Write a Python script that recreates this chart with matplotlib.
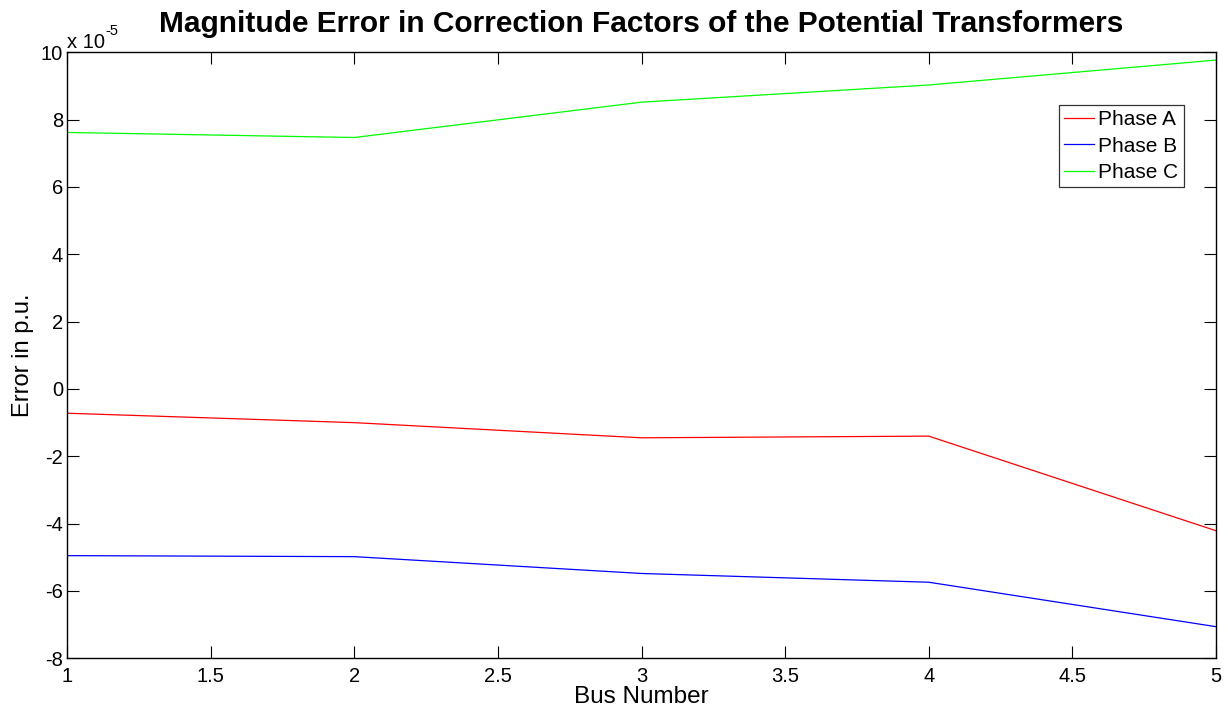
import matplotlib
matplotlib.use("Agg")
import matplotlib.pyplot as plt
from matplotlib.ticker import FuncFormatter, MultipleLocator
import numpy as np

plt.rcParams['font.family'] = ['Liberation Sans', 'DejaVu Sans']

bus = [1, 2, 3, 4, 5]
scale = 1e-5
phase_a = np.array([-0.72, -1.00, -1.45, -1.40, -4.21]) * scale
phase_b = np.array([-4.95, -4.98, -5.48, -5.74, -7.06]) * scale
phase_c = np.array([7.62, 7.47, 8.52, 9.03, 9.77]) * scale
labels = ['Phase A', 'Phase B', 'Phase C']
colors = ['#ff0000', '#0000ff', '#00ff00']

fig = plt.figure(figsize=(12.28, 7.13), dpi=100)
ax = fig.add_axes([0.0546, 0.0767, 0.9356, 0.8499])

for y, lab, c in zip([phase_a, phase_b, phase_c], labels, colors):
    ax.plot(bus, y, color=c, lw=0.9, label=lab)

ax.set_xlim(1, 5)
ax.set_ylim(-8e-5, 10e-5)
ax.xaxis.set_major_locator(MultipleLocator(0.5))
ax.yaxis.set_major_locator(MultipleLocator(2e-5))
ax.xaxis.set_major_formatter(FuncFormatter(lambda v, p: f"{v:g}"))
ax.yaxis.set_major_formatter(FuncFormatter(lambda v, p: f"{round(v/scale):d}"))
ax.tick_params(direction='in', length=8.5, width=0.8, labelsize=14.5,
               top=True, right=True)
ax.tick_params(axis='x', pad=6)
ax.tick_params(axis='y', pad=3)
for s in ax.spines.values():
    s.set_linewidth(1.0)

# exponent label, MATLAB style
t1 = ax.annotate("x 10", xy=(0, 1), xycoords='axes fraction', xytext=(0, 3),
                 textcoords='offset points', fontsize=14.5, ha='left', va='baseline')
fig.canvas.draw()
bb = t1.get_window_extent()
fig.text(bb.x1 / fig.bbox.width, (bb.y0 + 4 + 13) / fig.bbox.height, "-5",
         fontsize=10.5, ha='left', va='baseline')

ax.set_title("Magnitude Error in Correction Factors of the Potential Transformers",
             fontsize=21.5, fontweight='bold', pad=15)
ax.set_xlabel("Bus Number", fontsize=17.5, labelpad=0)
ax.set_ylabel("Error in p.u.", fontsize=17, labelpad=5)

leg = ax.legend(loc='upper right', bbox_to_anchor=(0.972, 0.913), fontsize=15,
                frameon=True, fancybox=False, edgecolor='black',
                handlelength=1.44, borderpad=0.26, labelspacing=0.35,
                handletextpad=0.2, borderaxespad=0)
leg.get_frame().set_linewidth(0.9)

fig.savefig("out.png", dpi=100)
